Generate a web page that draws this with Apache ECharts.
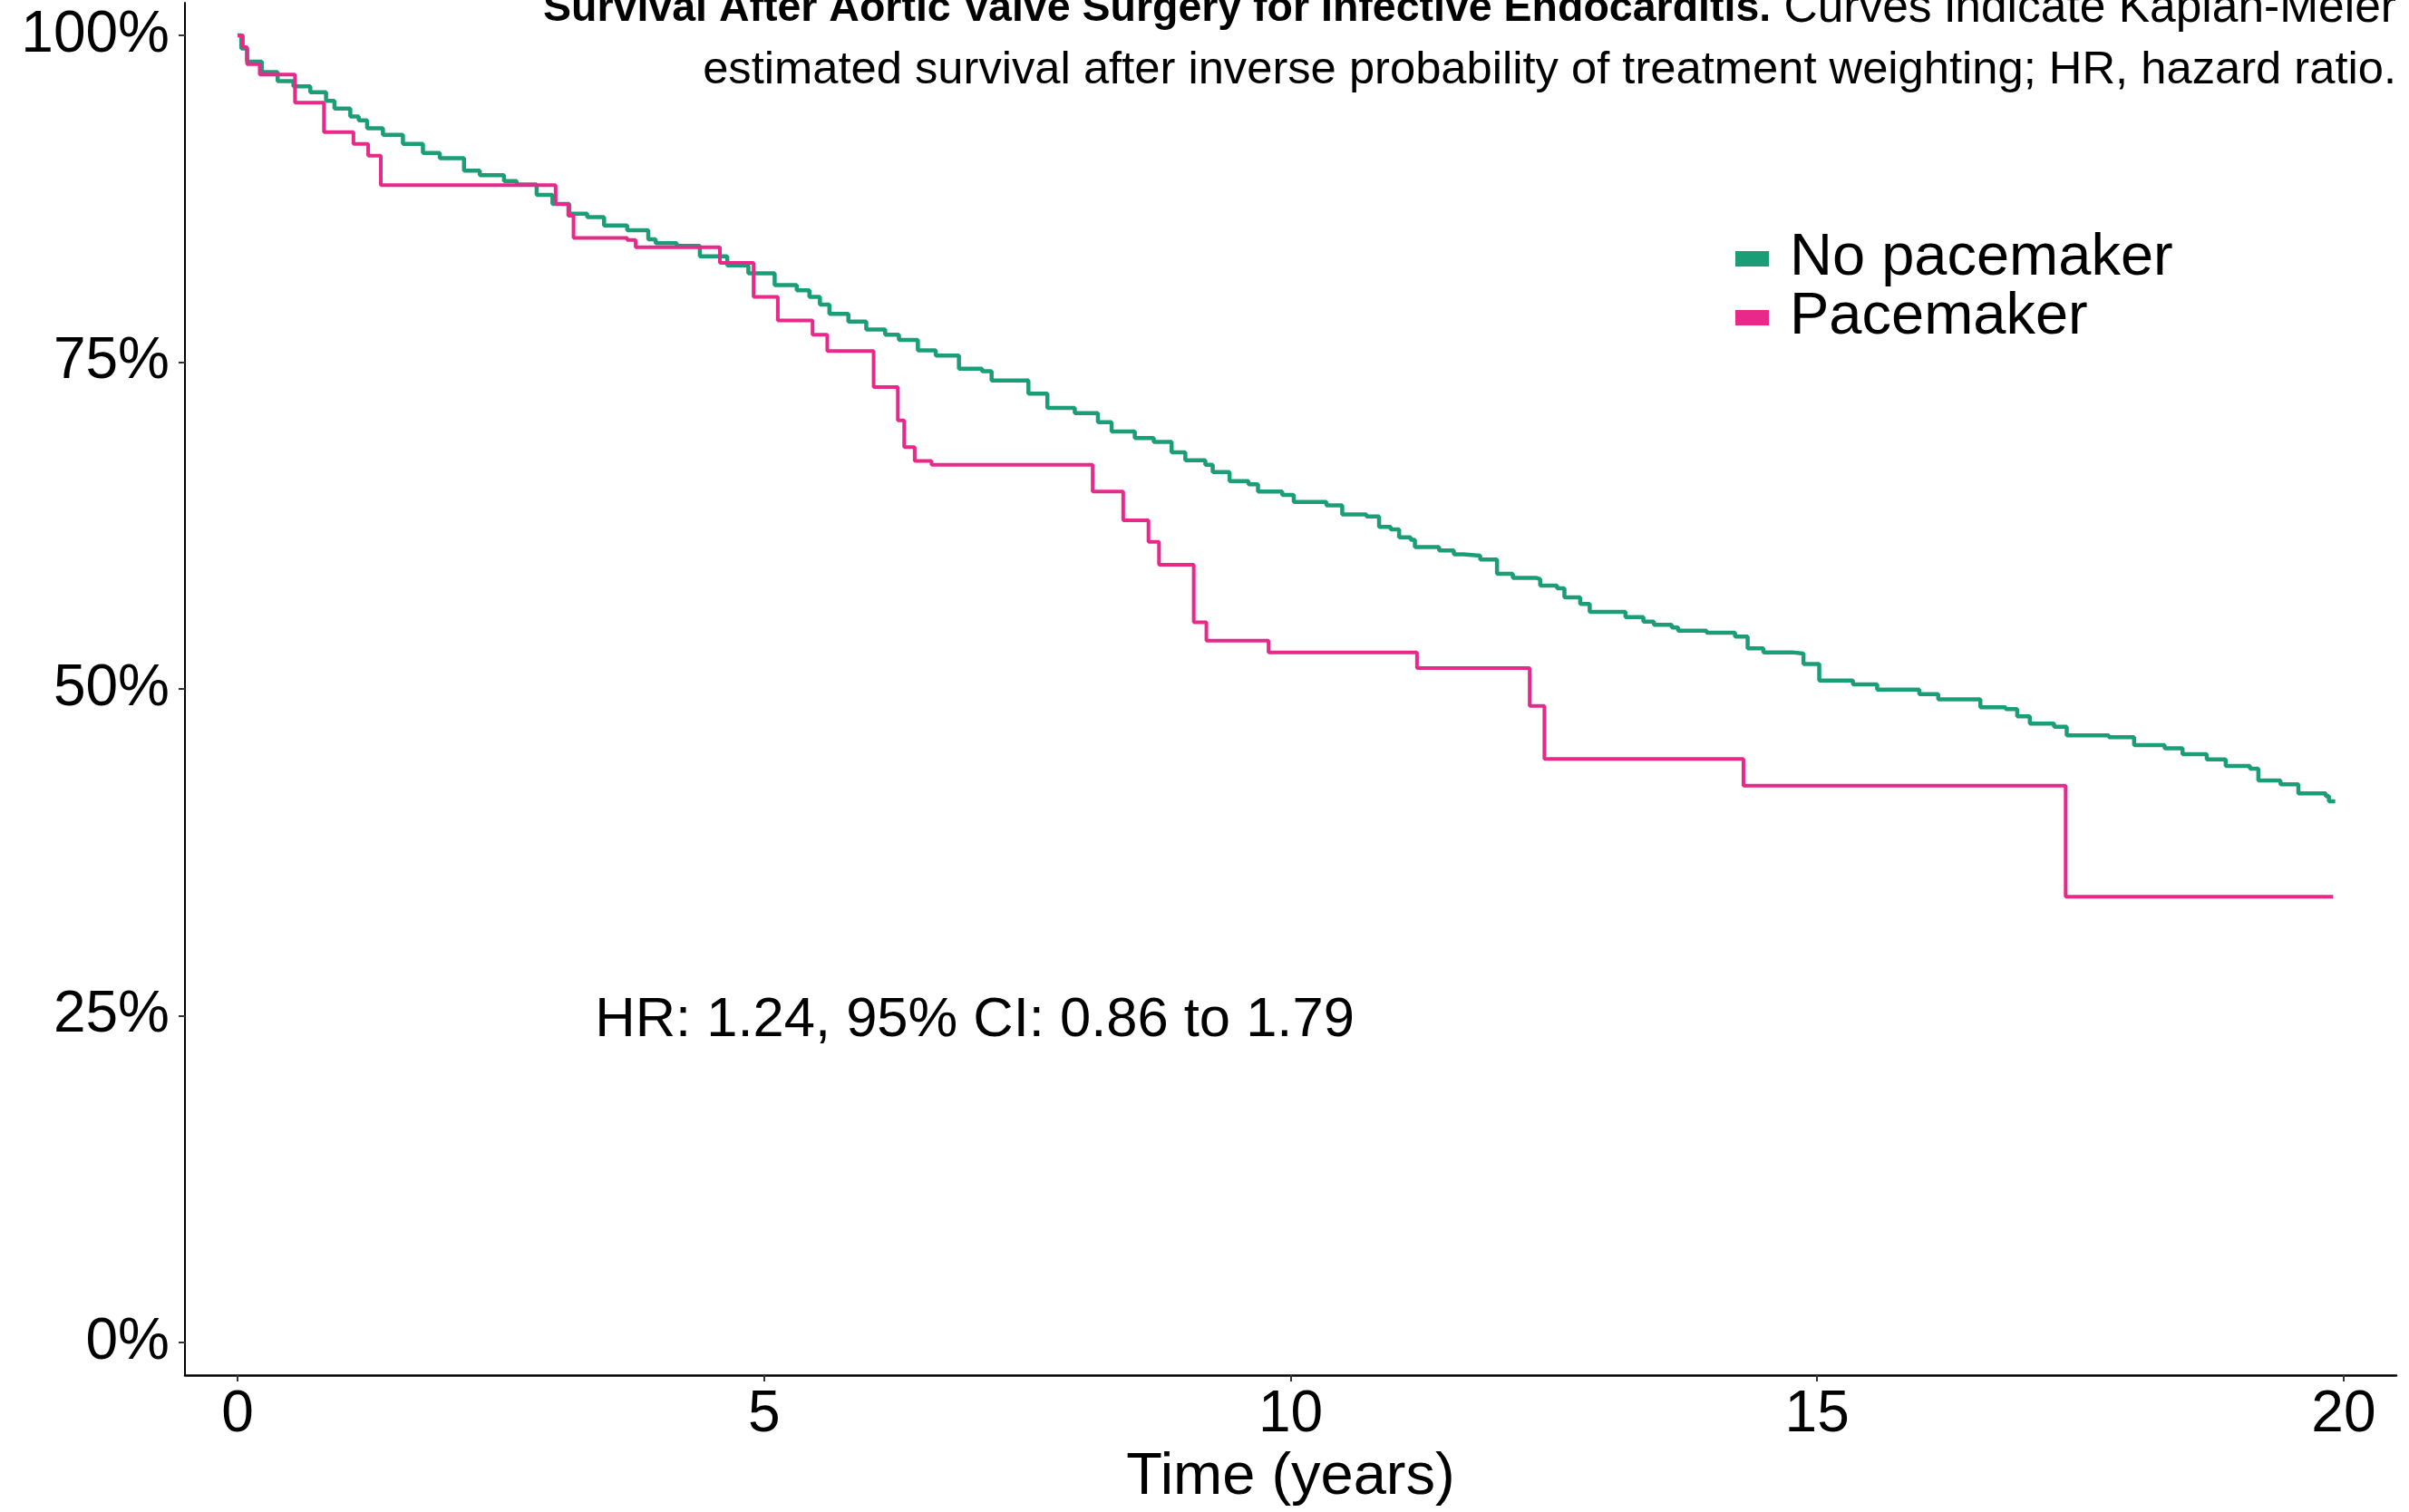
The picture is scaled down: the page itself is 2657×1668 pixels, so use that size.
<!DOCTYPE html>
<html>
<head>
<meta charset="utf-8">
<title>Survival After Aortic Valve Surgery</title>
<script src="https://cdn.jsdelivr.net/npm/echarts@6/dist/echarts.min.js"></script>
<style>
  html, body { margin: 0; padding: 0; background: #fff; }
  #chart { width: 2657px; height: 1668px; }
</style>
</head>
<body>
<div id="chart"></div>
<script>
// Kaplan-Meier steps (time in years, survival in %)
var noPacemakerTime = [0, 0.035, 0.09, 0.23, 0.38, 0.53, 0.69, 0.84, 0.92, 1.07, 1.15, 1.23, 1.38, 1.57, 1.76, 1.92,
  2.15, 2.30, 2.53, 2.65, 2.84, 2.99, 3.15, 3.32, 3.48, 3.70, 3.90, 3.97, 4.17, 4.39, 4.65, 4.85,
  5.10, 5.31, 5.43, 5.53, 5.62, 5.80, 5.97, 6.15, 6.28, 6.46, 6.63, 6.85, 7.07, 7.16, 7.51, 7.69,
  7.95, 8.17, 8.30, 8.52, 8.70, 8.87, 9.00, 9.19, 9.26, 9.42, 9.60, 9.69, 9.92, 10.03, 10.34, 10.49,
  10.72, 10.84, 10.95, 11.03, 11.14, 11.18, 11.41, 11.55, 11.64, 11.80, 11.96, 12.11, 12.33, 12.37,
  12.53, 12.60, 12.75, 12.84, 13.18, 13.35, 13.45, 13.62, 13.68, 13.95, 14.22, 14.34, 14.49, 14.76,
  14.87, 15.02, 15.34, 15.57, 15.97, 16.15, 16.55, 16.79, 16.90, 17.02, 17.25, 17.37, 17.77, 18.01,
  18.30, 18.47, 18.70, 18.88, 19.11, 19.19, 19.40, 19.57, 19.83, 19.86, 19.92];
var noPacemakerSurv = [100, 99.0, 98.0, 97.2, 96.5, 96.1, 95.65, 95.0, 94.4, 93.8, 93.5, 92.9, 92.4, 91.7, 91.0, 90.6,
  89.65, 89.3, 88.85, 88.6, 87.8, 87.1, 86.35, 86.1, 85.45, 85.1, 84.4, 84.1, 83.9, 83.1, 82.4, 81.8,
  80.9, 80.5, 80.0, 79.4, 78.7, 78.1, 77.5, 77.1, 76.7, 75.9, 75.5, 74.5, 74.3, 73.6, 72.6, 71.5,
  71.1, 70.4, 69.7, 69.2, 68.9, 68.1, 67.5, 67.15, 66.6, 65.9, 65.65, 65.1, 64.85, 64.3, 64.05, 63.35,
  63.2, 62.4, 62.2, 61.6, 61.4, 60.85, 60.6, 60.3, 60.2, 59.9, 58.8, 58.5, 58.4, 57.9,
  57.7, 57.0, 56.5, 55.9, 55.5, 55.15, 54.9, 54.7, 54.45, 54.3, 54.0, 53.1, 52.8, 52.7,
  51.9, 50.65, 50.35, 49.95, 49.6, 49.2, 48.6, 48.45, 47.9, 47.35, 47.1, 46.45, 46.3, 45.7,
  45.45, 45.0, 44.6, 44.1, 43.9, 43.0, 42.7, 42.0, 41.8, 41.4, 41.4];

var pacemakerTime = [0, 0.05, 0.09, 0.21, 0.545, 0.82, 1.10, 1.24, 1.36, 3.02, 3.14, 3.19, 3.70, 3.78, 4.58, 4.90,
  5.13, 5.46, 5.60, 6.04, 6.27, 6.33, 6.43, 6.59, 8.12, 8.41, 8.65, 8.75, 9.08, 9.20, 9.79,
  11.20, 12.27, 12.41, 14.30, 17.36, 19.90];
var pacemakerSurv = [100, 99.1, 97.8, 97.0, 94.85, 92.6, 91.7, 90.8, 88.55, 87.1, 86.2, 84.5, 84.35, 83.8, 82.6, 80.0,
  78.2, 77.1, 75.85, 73.1, 70.55, 68.5, 67.45, 67.15, 65.1, 62.9, 61.25, 59.5, 55.1, 53.7, 52.8,
  51.6, 48.7, 44.65, 42.6, 34.1, 34.1];

var seriesNames = ['No pacemaker', 'Pacemaker'];
var seriesColors = ['#1B9E77', '#E7298A'];
var xTicks = [0, 5, 10, 15, 20];
var yTicks = [0, 25, 50, 75, 100];
var hrText = 'HR: 1.24, 95% CI: 0.86 to 1.79';
var hrPos = [7, 25];
var titleBold = 'Survival After Aortic Valve Surgery for Infective Endocarditis.';
var titleLine1 = ' Curves indicate Kaplan-Meier';
var titleLine2 = 'estimated survival after inverse probability of treatment weighting; HR, hazard ratio.';

var FONT = '"Liberation Sans", Arial, Helvetica, sans-serif';

function zip(t, s) {
  return t.map(function (v, i) { return [v, s[i]]; });
}

var chart = echarts.init(document.getElementById('chart'));
chart.setOption({
  animation: false,
  backgroundColor: '#fff',
  textStyle: { fontFamily: FONT },
  grid: { left: 204, right: 14, top: 3, bottom: 149 },
  graphic: [
    {
      // caption, line 1 (top is cropped like the original)
      type: 'text',
      right: 14,
      top: -16,
      style: {
        text: '{b|' + titleBold + '}{n|' + titleLine1 + '}',
        align: 'right',
        fill: '#000',
        rich: {
          b: { fontWeight: 'bold', fontSize: 46.5, lineHeight: 63, fontFamily: FONT, color: '#000' },
          n: { fontSize: 51.5, lineHeight: 63, fontFamily: FONT, color: '#000' }
        }
      }
    },
    {
      type: 'text',
      right: 14,
      top: 47,
      style: {
        text: titleLine2,
        align: 'right',
        fontFamily: FONT,
        fontSize: 50.7,
        lineHeight: 63,
        fill: '#000'
      }
    }
  ],
  legend: {
    data: seriesNames,
    orient: 'vertical',
    left: 1914,
    top: 253,
    padding: 0,
    itemGap: 0,
    itemWidth: 37,
    itemHeight: 17,
    icon: 'rect',
    textStyle: { fontSize: 65, lineHeight: 62, color: '#000', padding: [0, 0, 0, 18], fontFamily: FONT }
  },
  xAxis: {
    type: 'value',
    min: -0.5,
    max: 20.5,
    name: 'Time (years)',
    nameLocation: 'middle',
    nameGap: 81,
    nameTextStyle: { fontSize: 65, color: '#000', fontFamily: FONT },
    axisLine: { show: true, onZero: false, lineStyle: { color: '#000', width: 2.5 } },
    axisTick: { show: true, length: 7, customValues: xTicks, lineStyle: { color: '#333', width: 2 } },
    axisLabel: { customValues: xTicks, fontSize: 64, color: '#000', margin: 12, fontFamily: FONT },
    splitLine: { show: false }
  },
  yAxis: {
    type: 'value',
    min: -2.5,
    max: 102.5,
    axisLine: { show: true, onZero: false, lineStyle: { color: '#000', width: 2 } },
    axisTick: { show: true, length: 7, customValues: yTicks, lineStyle: { color: '#333', width: 2 } },
    axisLabel: {
      customValues: yTicks,
      fontSize: 64,
      color: '#000',
      margin: 17,
      fontFamily: FONT,
      formatter: function (v) { return v + '%'; }
    },
    splitLine: { show: false }
  },
  series: [
    {
      name: seriesNames[0],
      type: 'line',
      step: 'end',
      showSymbol: false,
      symbol: 'none',
      color: seriesColors[0],
      lineStyle: { width: 4.5, color: seriesColors[0] },
      data: zip(noPacemakerTime, noPacemakerSurv)
    },
    {
      name: seriesNames[1],
      type: 'line',
      step: 'end',
      showSymbol: false,
      symbol: 'none',
      color: seriesColors[1],
      lineStyle: { width: 4, color: seriesColors[1] },
      data: zip(pacemakerTime, pacemakerSurv)
    },
    {
      name: 'hr',
      type: 'scatter',
      silent: true,
      symbolSize: 0,
      itemStyle: { opacity: 1 },
      data: [hrPos],
      label: {
        show: true,
        position: 'inside',
        offset: [0, 6],
        formatter: hrText,
        fontSize: 61.5,
        color: '#000',
        opacity: 1,
        fontFamily: FONT
      }
    }
  ]
});
</script>
</body>
</html>
